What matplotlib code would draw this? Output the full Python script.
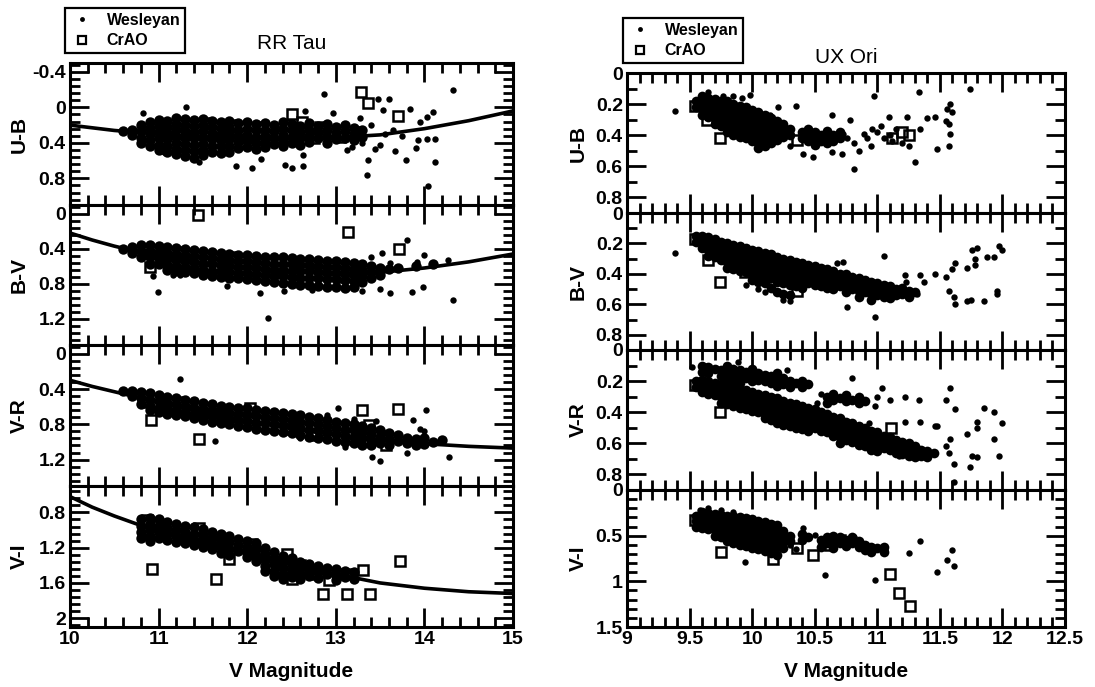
import numpy as np
import matplotlib
matplotlib.use("Agg")
import matplotlib.pyplot as plt
from matplotlib.ticker import MultipleLocator, AutoMinorLocator, FuncFormatter
from matplotlib.lines import Line2D

plt.rcParams['font.family'] = ['Liberation Sans', 'DejaVu Sans']
plt.rcParams['font.weight'] = 'bold'

# ---------------- RR Tau ----------------
# dense bands: {V: [colour values]}
rr_ub_band = {
    10.6: [.27], 10.7: [.25, .31], 10.8: [.20, .27, .34, .40],
    10.9: [.16, .23, .30, .37, .43], 11.0: [.14, .21, .28, .35, .42, .48],
    11.1: [.15, .22, .29, .36, .43, .50], 11.2: [.12, .19, .26, .33, .40, .47, .53],
    11.3: [.13, .20, .27, .34, .41, .48, .55], 11.4: [.14, .21, .28, .35, .42, .49, .57],
    11.5: [.13, .20, .27, .34, .41, .48, .54], 11.6: [.15, .22, .29, .36, .43, .50],
    11.7: [.16, .23, .30, .37, .44, .51], 11.8: [.15, .22, .29, .36, .43, .50],
    11.9: [.18, .25, .32, .39, .46], 12.0: [.17, .24, .31, .38, .45],
    12.1: [.19, .26, .33, .40, .47], 12.2: [.18, .25, .32, .39, .45],
    12.3: [.20, .27, .34, .41], 12.4: [.17, .24, .31, .38, .44],
    12.5: [.19, .26, .33, .40], 12.6: [.21, .28, .35, .42],
    12.7: [.18, .25, .32, .39], 12.8: [.21, .28, .35],
    12.9: [.19, .26, .33, .40], 13.0: [.22, .29, .36],
    13.1: [.20, .27, .34], 13.2: [.23, .30, .37], 13.3: [.26, .33],
}
rr_ub_wes = [(10.82, .06), (11.31, .0), (11.06, .5), (11.87, .66), (12.05, .68), (12.16, .58),
             (12.43, .65), (12.5, .68), (12.87, -.15), (12.65, .04), (12.97, .06), (13.48, -.1),
             (13.6, -.1), (13.53, .03), (13.84, .02), (14.1, .05), (14.03, .11), (13.95, .16),
             (14.03, .36), (14.12, .36), (13.93, .37), (13.9, .46), (13.79, .59), (14.12, .61),
             (13.67, .49), (13.36, .59), (13.35, .76), (13.27, .12), (13.13, .48), (13.18, .45),
             (13.44, .47), (14.04, .89), (14.32, -.2), (12.63, .54), (12.63, .66), (11.46, .62),
             (13.4, .2), (13.55, .3), (13.65, .25), (13.75, .32), (13.5, .42), (13.3, .4)]
rr_ub_crao = [(10.85, .30), (10.95, .22), (11.05, .38), (11.15, .27), (11.25, .18), (11.35, .36),
              (11.45, .46), (11.45, .25), (11.55, .18), (11.65, .38), (11.75, .28), (11.85, .20),
              (11.95, .40), (12.05, .30), (12.15, .22), (12.25, .37), (12.35, .28), (12.45, .20),
              (12.55, .36), (12.65, .27), (12.75, .34), (12.85, .24), (13.05, .33), (13.25, .28),
              (12.5, .07), (12.62, .16), (12.82, .22), (13.28, -.17), (13.36, -.05), (13.7, .10)]

rr_bv_band = {
    10.6: [.40], 10.7: [.38, .45], 10.8: [.36, .43, .50], 10.9: [.36, .43, .50, .57],
    11.0: [.37, .44, .51, .58], 11.1: [.38, .45, .52, .59, .64], 11.2: [.39, .46, .53, .60, .66],
    11.3: [.40, .47, .54, .61, .67], 11.4: [.41, .48, .55, .62, .68], 11.5: [.43, .50, .57, .64, .70],
    11.6: [.44, .51, .58, .65, .71], 11.7: [.45, .52, .59, .66, .72], 11.8: [.46, .53, .60, .67, .73],
    11.9: [.47, .54, .61, .68, .74], 12.0: [.47, .54, .61, .68, .75], 12.1: [.48, .55, .62, .69, .76],
    12.2: [.49, .56, .63, .70, .77], 12.3: [.50, .57, .64, .71, .78], 12.4: [.50, .57, .64, .71, .79],
    12.5: [.51, .58, .65, .72, .80], 12.6: [.52, .59, .66, .73, .81], 12.7: [.52, .59, .66, .73, .82],
    12.8: [.53, .60, .67, .74, .83], 12.9: [.54, .61, .68, .75, .84], 13.0: [.54, .61, .68, .75, .84],
    13.1: [.55, .62, .69, .76, .85], 13.2: [.56, .63, .70, .77, .84], 13.3: [.57, .64, .71, .78],
    13.4: [.60, .67, .74], 13.5: [.62, .70], 13.6: [.63], 13.7: [.62], 13.9: [.60], 14.1: [.57],
}
rr_bv_wes = [(10.94, .71), (10.99, .89), (11.16, .70), (11.24, .70), (11.77, .83), (12.14, .91),
             (12.42, .88), (12.23, 1.19), (12.73, .87), (13.61, .91), (13.86, .89), (13.98, .84),
             (13.8, .30), (13.52, .45), (14.0, .47), (13.92, .55), (14.27, .53), (14.32, .99),
             (13.61, .56), (13.4, .5), (13.3, .88), (13.5, .86)]
rr_bv_crao = [(11.44, .01), (13.14, .21), (13.71, .40), (10.9, .61), (10.85, .40), (11.05, .48),
              (11.25, .44), (11.35, .58), (11.55, .50), (11.75, .60), (11.85, .50), (12.05, .66),
              (12.15, .56), (12.35, .62), (12.45, .72), (12.55, .55), (12.75, .68), (12.85, .60),
              (13.05, .72), (13.25, .64), (12.25, .72), (11.65, .64)]

rr_vr_band = {
    10.6: [.42], 10.7: [.42, .48], 10.8: [.43, .50, .57], 10.9: [.45, .52, .59, .64],
    11.0: [.47, .54, .61, .66], 11.1: [.49, .56, .63, .68], 11.2: [.50, .57, .64, .70],
    11.3: [.52, .59, .66, .71], 11.4: [.54, .61, .68, .73], 11.5: [.56, .63, .70, .75],
    11.6: [.57, .64, .71, .77], 11.7: [.59, .66, .73, .79], 11.8: [.60, .67, .74, .80],
    11.9: [.61, .68, .75, .82], 12.0: [.62, .69, .76, .83], 12.1: [.64, .71, .78, .85],
    12.2: [.65, .72, .79, .86], 12.3: [.66, .73, .80, .88], 12.4: [.67, .74, .81, .89],
    12.5: [.68, .75, .82, .90], 12.6: [.70, .77, .84, .92], 12.7: [.72, .79, .86, .94],
    12.8: [.73, .80, .87, .95], 12.9: [.75, .82, .89, .97], 13.0: [.77, .84, .91, .99],
    13.1: [.79, .86, .93, 1.00], 13.2: [.80, .87, .94, 1.01], 13.3: [.82, .89, .96, 1.03],
    13.4: [.84, .91, .98, 1.04], 13.5: [.87, .94, 1.01], 13.6: [.90, .97, 1.03],
    13.7: [.92, .99], 13.8: [.95, 1.01], 13.9: [.97, 1.03], 14.0: [.96, 1.02],
    14.1: [1.0], 14.2: [.98],
}
rr_vr_wes = [(11.24, .29), (11.64, .99), (13.03, .62), (14.02, .64), (13.87, .75), (14.0, .88),
             (13.41, 1.17), (13.5, 1.22), (13.8, 1.13), (14.28, 1.17), (14.21, .98), (13.53, .89),
             (12.9, .7), (13.2, .74), (13.45, .76), (13.95, .85), (12.6, .96), (13.1, 1.06)]
rr_vr_crao = [(10.91, .75), (11.46, .97), (12.03, .62), (13.3, .64), (13.7, .63), (13.38, .81),
              (13.57, 1.03), (10.85, .55), (11.05, .6), (11.35, .64), (11.65, .70), (11.95, .72),
              (12.25, .8), (12.55, .78), (12.85, .86), (13.15, .9), (12.45, .85), (12.75, .92),
              (11.25, .55)]

rr_vi_band = {
    10.8: [.88, .95, 1.02, 1.09], 10.9: [.86, .93, 1.0, 1.07, 1.12], 11.0: [.88, .95, 1.02, 1.09],
    11.1: [.91, .98, 1.05, 1.11], 11.2: [.93, 1.0, 1.07, 1.13], 11.3: [.95, 1.02, 1.09, 1.15],
    11.4: [.97, 1.04, 1.11, 1.17], 11.5: [.99, 1.06, 1.13, 1.19], 11.6: [1.02, 1.09, 1.16, 1.22],
    11.7: [1.05, 1.12, 1.19, 1.26], 11.8: [1.07, 1.14, 1.21, 1.28], 11.9: [1.10, 1.17, 1.24],
    12.0: [1.12, 1.19, 1.26, 1.31], 12.1: [1.15, 1.22, 1.29, 1.35],
    12.2: [1.20, 1.27, 1.34, 1.41, 1.47], 12.3: [1.25, 1.32, 1.39, 1.46, 1.52],
    12.4: [1.29, 1.36, 1.43, 1.50, 1.56], 12.5: [1.32, 1.39, 1.46, 1.53],
    12.6: [1.36, 1.43, 1.50, 1.56], 12.7: [1.39, 1.46, 1.52], 12.8: [1.41, 1.48, 1.54],
    12.9: [1.43, 1.50], 13.0: [1.44, 1.51, 1.57], 13.1: [1.46, 1.53], 13.2: [1.48, 1.55],
}
rr_vi_wes = []
rr_vi_crao = [(10.87, .89), (10.92, 1.44), (11.46, .98), (11.6, 1.09), (11.65, 1.55), (11.8, 1.33),
              (12.05, 1.16), (12.1, 1.25), (12.45, 1.27), (12.5, 1.55), (12.41, 1.37), (12.86, 1.48),
              (12.92, 1.57), (12.86, 1.72), (13.12, 1.5), (13.13, 1.72), (13.31, 1.45), (13.39, 1.72),
              (13.72, 1.35), (10.95, .95), (11.05, 1.05), (11.25, 1.05), (11.35, 1.1), (10.85, 1.0),
              (12.25, 1.4), (12.35, 1.48), (12.6, 1.4), (12.75, 1.5)]

# fitted curves
rr_curve_v = [10, 10.25, 10.5, 10.75, 11, 11.5, 12, 12.5, 13, 13.5, 14, 14.5, 15]
rr_curve_ub = [0.20, 0.23, 0.26, 0.28, 0.30, 0.33, 0.35, 0.35, 0.34, 0.31, 0.24, 0.15, 0.04]
rr_curve_bv = [0.22, 0.30, 0.37, 0.43, 0.48, 0.56, 0.62, 0.66, 0.68, 0.67, 0.62, 0.55, 0.46]
rr_curve_vr = [0.30, 0.37, 0.43, 0.49, 0.55, 0.66, 0.76, 0.85, 0.92, 0.98, 1.02, 1.05, 1.07]
rr_curve_vi = [0.62, 0.74, 0.84, 0.93, 1.00, 1.12, 1.25, 1.38, 1.50, 1.60, 1.66, 1.70, 1.72]

# ---------------- UX Ori ----------------
ux_ub_band = {
    9.55: [.18, .22], 9.60: [.15, .19, .23, .27], 9.65: [.16, .20, .24, .28],
    9.70: [.17, .21, .25, .29, .33], 9.75: [.18, .22, .26, .30, .34],
    9.80: [.18, .22, .26, .30, .34, .38], 9.85: [.20, .24, .28, .32, .36, .40],
    9.90: [.21, .25, .29, .33, .37, .41], 9.95: [.22, .26, .30, .34, .38, .42],
    10.00: [.24, .28, .32, .36, .40, .44], 10.05: [.25, .29, .33, .37, .41, .45, .48],
    10.10: [.27, .31, .35, .39, .43, .47], 10.15: [.29, .33, .37, .41, .45],
    10.20: [.31, .35, .39, .43], 10.25: [.33, .37, .41], 10.30: [.36, .40],
    10.40: [.38, .42], 10.45: [.36, .40, .44], 10.50: [.38, .42, .46], 10.55: [.40, .44],
    10.60: [.37, .41, .45], 10.65: [.40, .44], 10.70: [.38, .42],
}
ux_ub_wes = [(9.38, .245), (9.65, .12), (9.77, .15), (9.85, .15), (9.92, .16), (9.98, .14),
             (10.21, .22), (10.35, .21), (10.64, .27), (10.14, .27), (10.97, .15), (11.33, .12),
             (11.74, .10), (11.58, .20), (11.56, .23), (11.6, .25), (11.4, .29), (11.46, .28),
             (11.55, .31), (11.57, .33), (11.58, .39), (11.57, .47), (11.48, .49), (11.34, .36),
             (11.3, .57), (11.09, .28), (11.24, .28), (10.81, .62), (10.78, .30), (10.73, .39),
             (10.76, .42), (10.64, .51), (10.72, .52), (10.89, .39), (10.81, .45), (10.96, .36),
             (11.0, .38), (11.05, .42), (11.1, .4), (11.15, .36), (11.12, .44), (11.2, .45),
             (11.25, .47), (11.03, .34), (10.92, .42), (10.41, .52), (10.49, .54), (10.85, .5),
             (10.3, .47), (10.95, .47)]
ux_ub_crao = [(9.54, .21), (9.64, .30), (9.74, .42), (11.25, .40), (11.2, .38), (11.12, .42),
              (9.9, .35), (10.05, .42), (10.15, .38), (10.36, .43)]

ux_bv_band = {
    9.55: [.15, .19], 9.60: [.15, .19, .23], 9.65: [.16, .20, .24, .28], 9.70: [.17, .21, .25, .29],
    9.75: [.19, .23, .27, .31], 9.80: [.20, .24, .28, .32, .36], 9.85: [.21, .25, .29, .33, .37],
    9.90: [.22, .26, .30, .34, .38], 9.95: [.23, .27, .31, .35, .39],
    10.00: [.24, .28, .32, .36, .40, .44], 10.05: [.25, .29, .33, .37, .41, .45],
    10.10: [.26, .30, .34, .38, .42, .46], 10.15: [.27, .31, .35, .39, .43, .49],
    10.20: [.29, .33, .37, .41, .45, .52], 10.25: [.30, .34, .38, .42, .46, .53],
    10.30: [.31, .35, .39, .43, .47, .54], 10.35: [.32, .36, .40, .44, .48],
    10.40: [.33, .37, .41, .45, .49], 10.45: [.34, .38, .42, .46], 10.50: [.35, .39, .43, .47],
    10.55: [.36, .40, .44, .48], 10.60: [.37, .41, .45, .49], 10.65: [.38, .42, .46, .50],
    10.70: [.40, .44, .48], 10.75: [.40, .44, .48, .52], 10.80: [.42, .46, .50],
    10.85: [.43, .47, .51, .55], 10.90: [.44, .48, .52], 10.95: [.45, .49, .53, .57],
    11.00: [.46, .50, .54], 11.05: [.47, .51, .55], 11.10: [.48, .52, .56], 11.15: [.50, .54],
    11.20: [.49, .53], 11.25: [.51, .55], 11.30: [.52],
}
ux_bv_wes = [(9.38, .26), (10.76, .62), (10.98, .68), (11.05, .28), (10.73, .32), (10.68, .33),
             (11.76, .24), (11.8, .23), (11.88, .29), (11.93, .29), (11.97, .22), (12.0, .24),
             (11.78, .3), (11.72, .36), (11.78, .34), (11.62, .33), (11.6, .37), (11.55, .42),
             (11.46, .40), (11.34, .41), (11.37, .45), (11.57, .51), (11.61, .55), (11.62, .60),
             (11.72, .58), (11.75, .57), (11.85, .58), (11.96, .51), (11.96, .53), (11.22, .41),
             (11.23, .45), (11.32, .53), (10.25, .57), (10.3, .58), (10.05, .5), (10.1, .52),
             (9.95, .47)]
ux_bv_crao = [(9.54, .17), (9.65, .31), (9.74, .45), (9.94, .39), (10.36, .51), (10.1, .42)]

ux_vr_band = {
    9.55: [.20, .24], 9.60: [.10, .14, .19, .23, .27], 9.65: [.11, .15, .20, .24, .28],
    9.70: [.12, .21, .25, .29], 9.75: [.13, .17, .22, .26, .30, .34],
    9.80: [.10, .14, .18, .23, .27, .31, .35], 9.85: [.12, .16, .20, .24, .28, .32, .36],
    9.90: [.13, .17, .21, .25, .29, .33, .37], 9.95: [.14, .18, .26, .30, .34, .38],
    10.00: [.12, .16, .20, .27, .31, .35, .39], 10.05: [.15, .19, .28, .32, .36, .40],
    10.10: [.16, .20, .29, .33, .37, .41, .44], 10.15: [.17, .21, .30, .34, .38, .42, .45],
    10.20: [.15, .19, .23, .31, .35, .39, .43, .47], 10.25: [.18, .22, .33, .37, .41, .45, .48],
    10.30: [.20, .24, .34, .38, .42, .46, .49], 10.35: [.21, .35, .39, .43, .47, .50],
    10.40: [.20, .24, .36, .40, .44, .48, .51], 10.45: [.22, .37, .41, .45, .49, .52],
    10.50: [.38, .42, .46, .50], 10.55: [.40, .44, .48, .52],
    10.60: [.30, .34, .41, .45, .49, .53], 10.65: [.28, .32, .43, .47, .51, .55],
    10.70: [.31, .44, .48, .52, .56, .60], 10.75: [.29, .33, .46, .50, .54, .58],
    10.80: [.32, .47, .51, .55, .59], 10.85: [.30, .34, .49, .53, .57, .61],
    10.90: [.33, .50, .54, .58, .62], 10.95: [.52, .56, .60, .64], 11.00: [.53, .57, .61, .65],
    11.05: [.55, .59, .63], 11.10: [.56, .60, .64], 11.15: [.58, .62, .66], 11.20: [.59, .63, .67],
    11.25: [.60, .64, .68], 11.30: [.62, .66, .69], 11.35: [.64, .68], 11.40: [.65, .69],
    11.45: [.66],
}
ux_vr_wes = [(9.52, .11), (9.64, .10), (9.89, .08), (10.28, .13), (10.8, .18), (11.04, .245),
             (11.1, .32), (11.22, .30), (11.33, .32), (11.58, .245), (11.55, .32), (11.62, .38),
             (11.85, .37), (11.93, .40), (12.0, .47), (11.8, .46), (11.8, .50), (11.72, .54),
             (11.93, .57), (11.97, .68), (11.8, .69), (11.76, .68), (11.74, .75), (11.61, .73),
             (11.58, .57), (11.55, .62), (11.57, .66), (11.48, .49), (11.34, .46), (11.22, .46),
             (11.16, .58), (11.25, .64), (11.3, .66), (11.4, .65), (11.17, .68), (10.89, .58),
             (10.73, .58), (10.97, .55), (11.05, .62), (11.61, .85), (10.93, .47), (11.46, .49),
             (10.98, .36), (10.55, .28), (10.52, .34), (11.0, .30)]
ux_vr_crao = [(9.54, .225), (9.74, .40), (11.11, .50)]

ux_vi_band = {
    9.55: [.28, .34, .40], 9.60: [.24, .30, .36, .42], 9.65: [.25, .31, .37, .43],
    9.70: [.26, .32, .38, .44, .50], 9.75: [.27, .33, .39, .45, .51],
    9.80: [.28, .34, .40, .46, .52, .56], 9.85: [.29, .35, .41, .47, .53, .58],
    9.90: [.30, .36, .42, .48, .54, .60], 9.95: [.31, .37, .43, .49, .55, .61],
    10.00: [.32, .38, .44, .50, .56, .63], 10.05: [.34, .40, .46, .52, .58, .65],
    10.10: [.35, .41, .47, .53, .59, .67], 10.15: [.37, .43, .49, .55, .61, .69],
    10.20: [.38, .44, .50, .56, .62, .71], 10.25: [.45, .51, .57, .63], 10.30: [.50, .56],
    10.40: [.48, .55], 10.45: [.52], 10.55: [.55, .62], 10.60: [.52, .58],
    10.65: [.50, .56, .63], 10.70: [.52, .58], 10.75: [.55, .61], 10.80: [.52, .58],
    10.85: [.56, .62], 10.90: [.60, .66], 10.95: [.62, .68], 11.00: [.64], 11.05: [.62, .68],
}
ux_vi_wes = [(9.94, .79), (10.58, .93), (10.41, .42), (10.5, .49), (10.81, .52), (11.06, .66),
             (11.25, .69), (11.34, .56), (11.6, .66), (11.56, .77), (11.61, .83), (11.48, .90),
             (10.98, .99), (9.58, .22), (9.65, .2), (9.75, .22), (9.85, .24), (10.3, .6), (10.35, .65)]
ux_vi_crao = [(9.54, .33), (9.75, .68), (10.17, .76), (10.36, .64), (10.49, .71), (11.1, .92),
              (11.17, 1.13), (11.26, 1.27), (10.62, .6), (10.7, .55)]


def band_points(band):
    xs = [x for x, ys in band.items() for _ in ys]
    ys = [y for ys in band.values() for y in ys]
    return np.array(xs), np.array(ys)


def fmt(v, pos):
    v = round(v, 2)
    if v == 0:
        return '0'
    return f'{v:g}'


W, H = 1095, 687
fig = plt.figure(figsize=(W / 100, H / 100), dpi=100)


def add_panel(x0, x1, y0, y1):
    return fig.add_axes([x0 / W, 1 - y1 / H, (x1 - x0) / W, (y1 - y0) / H])


def style(ax, xlim, ylim, xmaj, xmin, ymaj, ymin, bottom):
    ax.set_xlim(*xlim)
    ax.set_ylim(ylim[1], ylim[0])
    ax.xaxis.set_major_locator(MultipleLocator(xmaj))
    ax.xaxis.set_minor_locator(AutoMinorLocator(xmin))
    ax.yaxis.set_major_locator(MultipleLocator(ymaj))
    ax.yaxis.set_minor_locator(AutoMinorLocator(ymin))
    ax.xaxis.set_major_formatter(FuncFormatter(fmt))
    ax.yaxis.set_major_formatter(FuncFormatter(fmt))
    ax.tick_params(which='both', direction='in', top=True, right=True, width=2.0,
                   labelsize=14, pad=3)
    ax.tick_params(which='major', length=14)
    ax.tick_params(which='minor', length=7.5)
    if not bottom:
        ax.tick_params(labelbottom=False)
    for s in ax.spines.values():
        s.set_linewidth(2.2)


def draw(ax, band, wes, crao, band_ms, cx=None, cy=None):
    bx, by = band_points(band)
    # the crowded nights merge into a solid band in the original
    ax.plot(bx, by, 'o', ms=band_ms, color='k', mew=0, zorder=2)
    if wes:
        w = np.array(wes)
        ax.plot(w[:, 0], w[:, 1], 'o', ms=4.6, color='k', mew=0, zorder=2)
    if crao:
        c = np.array(crao)
        ax.plot(c[:, 0], c[:, 1], 's', ms=7, mfc='none', mec='k', mew=1.8, zorder=3)
    if cx is not None:
        ax.plot(cx, cy, '-', color='k', lw=2.6, zorder=4)


def legend(ax, xa, ya):
    handles = [Line2D([], [], ls='none', marker='o', ms=3.5, color='k', mew=0),
               Line2D([], [], ls='none', marker='s', ms=6, mfc='none', mec='k', mew=1.6)]
    lg = ax.legend(handles, ['Wesleyan', 'CrAO'], loc='lower left', bbox_to_anchor=(xa, ya),
                   frameon=True, fancybox=False, framealpha=1, edgecolor='k',
                   prop={'size': 11.5, 'weight': 'bold'}, borderpad=0.3, labelspacing=0.35,
                   handlelength=1.5, handletextpad=0.8, borderaxespad=0)
    lg.get_frame().set_linewidth(1.6)


# left column: RR Tau
rr_edges = [63, 205, 345, 486, 627]
rr_specs = [('U-B', rr_ub_band, rr_ub_wes, rr_ub_crao, rr_curve_ub, (-0.5, 1.1)),
            ('B-V', rr_bv_band, rr_bv_wes, rr_bv_crao, rr_curve_bv, (-0.1, 1.5)),
            ('V-R', rr_vr_band, rr_vr_wes, rr_vr_crao, rr_curve_vr, (-0.1, 1.5)),
            ('V-I', rr_vi_band, rr_vi_wes, rr_vi_crao, rr_curve_vi, (0.5, 2.1))]
for i, (lab, band, wes, crao, curve, ylim) in enumerate(rr_specs):
    ax = add_panel(70, 513, rr_edges[i], rr_edges[i + 1])
    draw(ax, band, wes, crao, 7.5, rr_curve_v, curve)
    style(ax, (10, 15), ylim, 1, 5, 0.4, 5, i == 3)
    ax.set_ylabel(lab, fontsize=15, fontweight='bold')
    ax.yaxis.set_label_coords(-0.093, 0.5)
    if i == 0:
        ax.set_title('RR Tau', fontsize=15, fontweight='normal', pad=10)
        legend(ax, -0.011, 1.07)
    if i == 3:
        ax.set_xlabel('V Magnitude', fontsize=15, fontweight='bold')
        ax.xaxis.set_label_coords(0.5, -0.25)

# right column: UX Ori
ux_edges = [73, 213, 350, 490, 627]
ux_specs = [('U-B', ux_ub_band, ux_ub_wes, ux_ub_crao, (0, 0.9), 0.2, 2),
            ('B-V', ux_bv_band, ux_bv_wes, ux_bv_crao, (0, 0.9), 0.2, 2),
            ('V-R', ux_vr_band, ux_vr_wes, ux_vr_crao, (0, 0.9), 0.2, 2),
            ('V-I', ux_vi_band, ux_vi_wes, ux_vi_crao, (0, 1.5), 0.5, 5)]
for i, (lab, band, wes, crao, ylim, ymaj, ymin) in enumerate(ux_specs):
    ax = add_panel(627, 1065, ux_edges[i], ux_edges[i + 1])
    draw(ax, band, wes, crao, 7.0)
    style(ax, (9, 12.5), ylim, 0.5, 5, ymaj, ymin, i == 3)
    ax.set_ylabel(lab, fontsize=15, fontweight='bold')
    ax.yaxis.set_label_coords(-0.09, 0.5)
    if i == 0:
        ax.set_title('UX Ori', fontsize=15, fontweight='normal', pad=7)
        legend(ax, -0.009, 1.07)
    if i == 3:
        ax.set_xlabel('V Magnitude', fontsize=15, fontweight='bold')
        ax.xaxis.set_label_coords(0.5, -0.255)

fig.savefig('out.png', dpi=100)
